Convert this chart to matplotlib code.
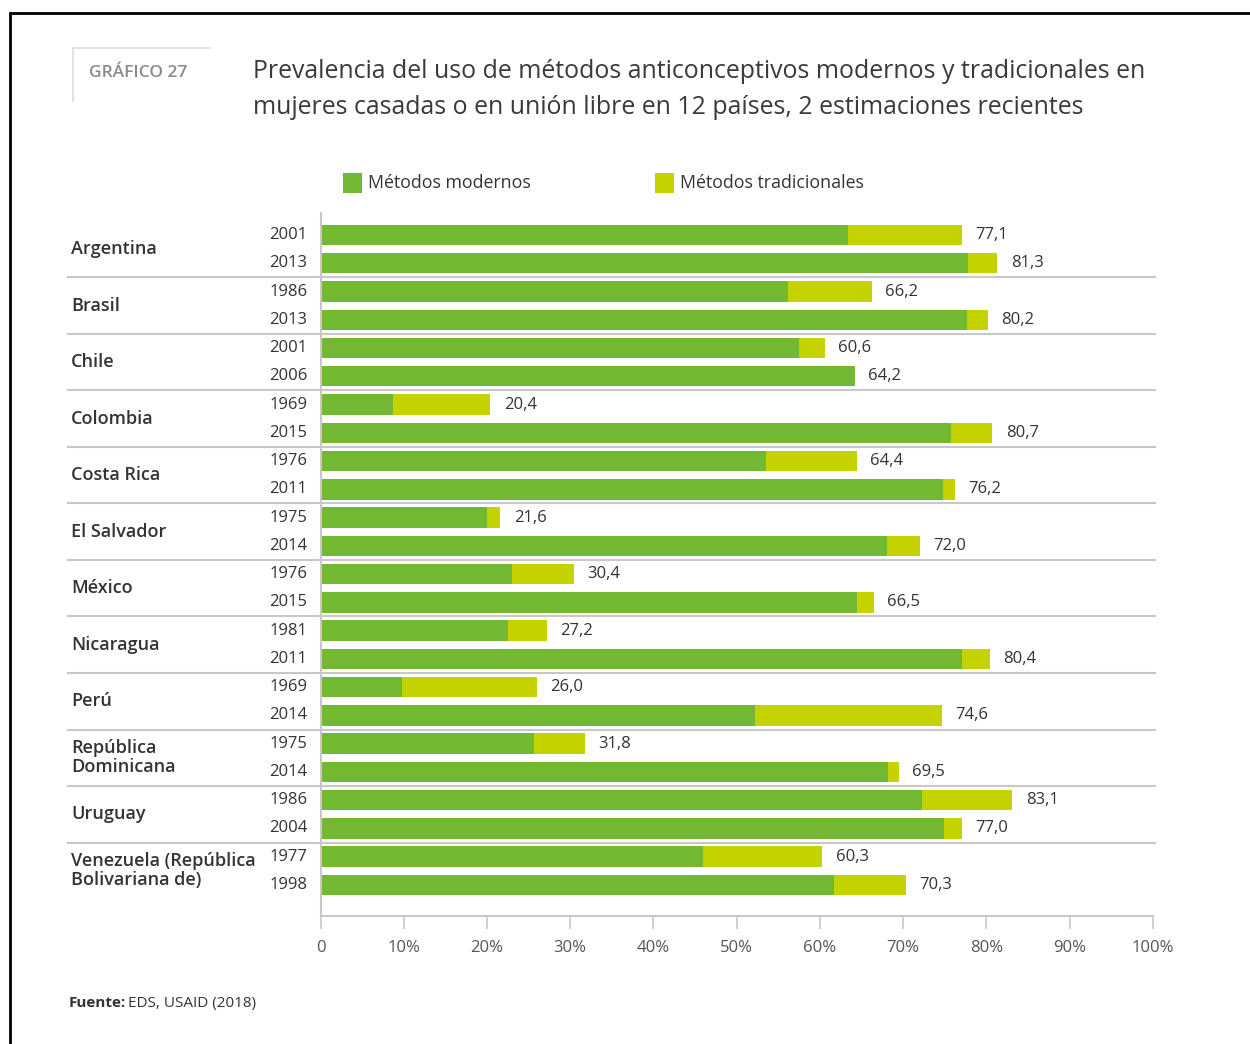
#!/usr/bin/env python3
"""Prevalencia de métodos anticonceptivos: barras horizontales apiladas."""

import matplotlib

matplotlib.use("Agg")
import matplotlib.pyplot as plt
import numpy as np
from matplotlib.patches import Rectangle

plt.rcParams["font.family"] = ["Open Sans", "DejaVu Sans"]

COUNTRIES = [
    "Argentina", "Brasil", "Chile", "Colombia", "Costa Rica", "El Salvador",
    "México", "Nicaragua", "Perú", "República\nDominicana", "Uruguay",
    "Venezuela (República\nBolivariana de)",
]
YEARS = [
    "2001", "2013", "1986", "2013", "2001", "2006", "1969", "2015",
    "1976", "2011", "1975", "2014", "1976", "2015", "1981", "2011",
    "1969", "2014", "1975", "2014", "1986", "2004", "1977", "1998",
]
TOTAL = [
    77.1, 81.3, 66.2, 80.2, 60.6, 64.2, 20.4, 80.7,
    64.4, 76.2, 21.6, 72.0, 30.4, 66.5, 27.2, 80.4,
    26.0, 74.6, 31.8, 69.5, 83.1, 77.0, 60.3, 70.3,
]
MODERN = [
    63.4, 77.8, 56.2, 77.6, 57.5, 64.2, 8.7, 75.7,
    53.5, 74.8, 20.0, 68.0, 23.0, 64.4, 22.5, 77.1,
    9.8, 52.2, 25.7, 68.2, 72.2, 74.9, 46.0, 61.7,
]
TICKS = [0, 10, 20, 30, 40, 50, 60, 70, 80, 90, 100]
TICK_LABELS = ["0", "10%", "20%", "30%", "40%", "50%", "60%", "70%", "80%", "90%", "100%"]

GREEN = "#72b832"
YELLOW = "#c4d300"
TEXT = "#333333"
GRID = "#c8c8c8"

W, H = 1250, 1044


def fx(px):
    return px / W


def fy(py):
    return 1 - py / H


modern = np.array(MODERN)
traditional = np.array(TOTAL) - modern
ypos = np.arange(len(YEARS))

fig = plt.figure(figsize=(W / 100, H / 100), dpi=100)

# outer frame (left and top edges visible)
fig.add_artist(Rectangle((fx(10), fy(1060)), fx(1300), fy(13) - fy(1060),
                         transform=fig.transFigure, fill=False,
                         edgecolor="black", linewidth=2))
# "GRÁFICO 27" tab
fig.add_artist(plt.Line2D([fx(73), fx(210)], [fy(48), fy(48)], color="#dddddd", lw=1.2))
fig.add_artist(plt.Line2D([fx(73), fx(73)], [fy(48), fy(101)], color="#dddddd", lw=1.2))
fig.text(fx(89), fy(73), "GRÁFICO 27", fontsize=12.5, color="#8a8a8a",
         weight="semibold", va="center", ha="left")

fig.text(fx(253), fy(71),
         "Prevalencia del uso de métodos anticonceptivos modernos y tradicionales en",
         fontsize=17.9, color="#3a3a3a", va="center", ha="left")
fig.text(fx(253), fy(107),
         "mujeres casadas o en unión libre en 12 países, 2 estimaciones recientes",
         fontsize=17.9, color="#3a3a3a", va="center", ha="left")

# legend
for x0, color, label in [(343, GREEN, "Métodos modernos"), (655, YELLOW, "Métodos tradicionales")]:
    fig.add_artist(Rectangle((fx(x0), fy(193)), fx(19), fy(173) - fy(193),
                             transform=fig.transFigure, facecolor=color, edgecolor="none"))
    fig.text(fx(x0 + 25), fy(183), label, fontsize=12.8, color=TEXT, va="center", ha="left")

ax = fig.add_axes([fx(320.5), fy(916), fx(1153) - fx(320.5), fy(213) - fy(916)])
ax.barh(ypos, modern, height=0.72, color=GREEN, edgecolor="none")
ax.barh(ypos, traditional, left=modern, height=0.72, color=YELLOW, edgecolor="none")

for y, total in zip(ypos, TOTAL):
    ax.text(total + 1.6, y, f"{total:.1f}".replace(".", ","), fontsize=12,
            color=TEXT, va="center", ha="left")

ax.set_xlim(0, 100)
ax.set_ylim(len(YEARS) - 1 + 1.1, -0.78)

ax.set_xticks(TICKS)
ax.set_xticklabels(TICK_LABELS, fontsize=12, color="#555555")
ax.tick_params(axis="x", length=9, width=1.2, color=GRID, pad=8)
ax.set_yticks([])

for side in ["top", "right"]:
    ax.spines[side].set_visible(False)
ax.spines["left"].set_color(GRID)
ax.spines["left"].set_linewidth(1.5)
ax.spines["bottom"].set_color(GRID)
ax.spines["bottom"].set_linewidth(1.5)

# group separators
trans = ax.get_yaxis_transform()
for g in range(1, len(COUNTRIES)):
    ysep = 2 * g - 0.5
    ax.plot([-0.303, 1.003], [ysep, ysep], transform=trans, color=GRID,
            lw=1.5, clip_on=False)

# year labels
for y, year in zip(ypos, YEARS):
    ax.text(-0.016, y, year, transform=trans, fontsize=12, color=TEXT,
            va="center", ha="right")

# country labels
for g, country in enumerate(COUNTRIES):
    ax.text(-0.2996, 2 * g + 0.5, country, transform=trans, fontsize=13,
            color=TEXT, weight="semibold", va="center", ha="left", linespacing=1.1)

fig.text(fx(69), fy(1003), "Fuente:", fontsize=11, weight="bold", color=TEXT,
         va="center", ha="left")
fig.text(fx(128), fy(1003), "EDS, USAID (2018)", fontsize=11, color=TEXT,
         va="center", ha="left")

fig.savefig("out.png", dpi=100)
